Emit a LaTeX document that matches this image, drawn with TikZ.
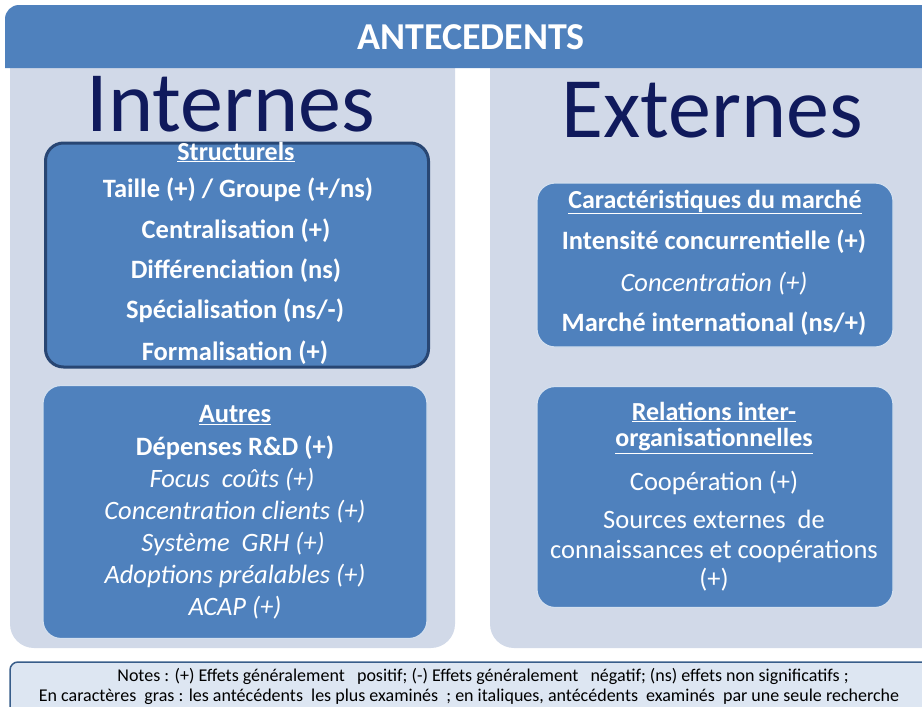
\documentclass[tikz,border=0pt]{standalone}
\usepackage{fontspec}
\setmainfont{Carlito}
\usetikzlibrary{positioning}
\definecolor{barblue}{RGB}{79,129,189}
\definecolor{panelgrey}{RGB}{209,217,232}
\definecolor{deepborder}{RGB}{40,70,115}
\definecolor{navytext}{RGB}{16,26,92}
\definecolor{notefill}{RGB}{221,230,242}
\definecolor{noteborder}{RGB}{56,93,138}
\tikzset{
    panel/.style = {fill=panelgrey, rounded corners=24pt},
    bluebox/.style = {fill=barblue, draw=white!75!barblue, line width=1.2pt, rounded corners=18pt, inner sep=0pt},
    head/.style = {text=white, inner sep=1pt, font=\bfseries\fontsize{26}{30}\selectfont},
    itemb/.style = {text=white, font=\bfseries\fontsize{26.5}{30}\selectfont},
    itemi/.style = {text=white, font=\itshape\fontsize{26.5}{30}\selectfont},
    itemr/.style = {text=white, font=\fontsize{26.5}{30}\selectfont},
    big/.style = {text=navytext, inner sep=0pt, font=\fontsize{86}{90}\selectfont},
    note/.style = {text=black, font=\fontsize{18}{20}\selectfont}
}

\begin{document}
\begin{tikzpicture}[x=1pt,y=-1pt]
  \useasboundingbox (0,0) rectangle (922,707);

  % fonds
  \fill[panel] (10,40) rectangle (455,648);
  \fill[panel] (490,40) rectangle (970,648);
  \fill[barblue] (5,68) [rounded corners=14pt] -- (5,5) [sharp corners] -- (940,5) -- (940,68) -- cycle;
  \node[text=white, font=\bfseries\fontsize{38}{42}\selectfont] (titre) at (471,37) {ANTECEDENTS};

  \node[big] (internes) at (231,104) {Internes};
  \node[big] (externes) at (712,110) {Externes};

  % internes
  \node[bluebox, draw=deepborder, line width=3pt, minimum width=383pt, minimum height=224pt] (struct) at (237,255) {};
  \node[head] (s0) at (236,152) {\underline{Structurels}};
  \node[itemb] (s1) at (238,190) {Taille (+) / Groupe (+/ns)};
  \node[itemb] (s2) at (236,231) {Centralisation (+)};
  \node[itemb] (s3) at (236,271) {Différenciation (ns)};
  \node[itemb] (s4) at (235,311) {Spécialisation (ns/-)};
  \node[itemb] (s5) at (235,353) {Formalisation (+)};

  \node[bluebox, minimum width=384pt, minimum height=253pt] (autres) at (235,512) {};
  \node[itemb] (a0) at (235,415) {\underline{Autres}};
  \node[itemb] (a1) at (235,448) {Dépenses R\&D (+)};
  \node[itemi] (a2) at (232,480) {Focus~ coûts (+)};
  \node[itemi] (a3) at (235,512) {Concentration clients (+)};
  \node[itemi] (a4) at (233,544) {Système~ GRH (+)};
  \node[itemi] (a5) at (235,576) {Adoptions préalables (+)};
  \node[itemi] (a6) at (235,608) {ACAP (+)};

  % externes
  \node[bluebox, minimum width=356pt, minimum height=164pt] (marche) at (715,265) {};
  \node[head] (m0) at (715,202) {\underline{Caractéristiques du marché}};
  \node[itemb] (m1) at (714,242) {Intensité concurrentielle (+)};
  \node[itemi] (m2) at (714,284) {Concentration (+)};
  \node[itemb] (m3) at (714,324) {Marché international (ns/+)};

  \node[bluebox, minimum width=356pt, minimum height=221pt] (relations) at (715,497) {};
  \node[head] (r0) at (714,412) {\underline{Relations inter-}};
  \node[head] (r1) at (714,441) {\underline{organisationnelles}};
  \node[itemr] (r2) at (714,483) {Coopération (+)};
  \node[itemr, align=center, font=\fontsize{26.5}{29.5}\selectfont] (r3) at (714,551) {Sources externes~ de\\connaissances et coopérations\\(+)};

  % notes
  \draw[fill=notefill, draw=noteborder, line width=1.5pt, rounded corners=8pt] (10,662) rectangle (950,740);
  \node[note] (n1) at (483,676) {Notes : (+) Effets généralement~~ positif; (-) Effets généralement~~ négatif; (ns) effets non significatifs ;};
  \node[note] (n2) at (469,697) {En caractères~ gras : les antécédents~ les plus examinés~ ; en italiques, antécédents~ examinés~ par une seule recherche};
\end{tikzpicture}
\end{document}
